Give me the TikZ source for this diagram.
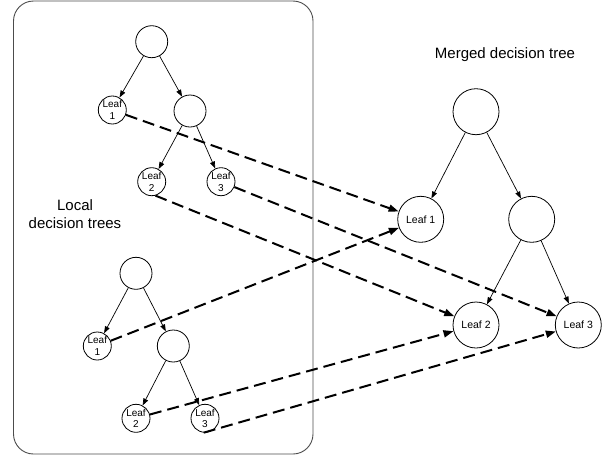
\documentclass[tikz,border=0pt]{standalone}
\usepackage{fontspec}
\setmainfont{Liberation Sans}
\usetikzlibrary{arrows.meta}

\tikzset{
  inner/.style={draw, circle, line width=0.8pt, minimum size=32pt, inner sep=0pt},
  leaf/.style={draw, circle, line width=0.8pt, minimum size=28pt, inner sep=0pt, align=center,
    font=\fontsize{10}{11.5}\selectfont},
  bigleaf/.style={draw, circle, line width=0.8pt, minimum size=46pt, inner sep=0pt,
    font=\fontsize{10.5}{12}\selectfont},
  edge/.style={-{Triangle[length=7pt,width=5pt]}, line width=0.7pt},
  merge/.style={-{Triangle[length=10pt,width=7pt]}, line width=2pt,
    dash pattern=on 12pt off 6pt}
}

\begin{document}
\begin{tikzpicture}[x=1pt, y=-1pt]
			%%%%% START %%%%%
			\useasboundingbox (0,0) rectangle (609,458);
			
			\draw[line width=0.9pt, color=black!70, rounded corners=20pt] (13.5,1) rectangle (313,454);
			\node[align=center, font=\fontsize{15}{17.5}\selectfont] (loc) at (75,214) {Local\\decision trees};
			\node[font=\fontsize{15}{17.5}\selectfont] (mtitle) at (505,55) {Merged decision tree};
			
			% first local tree
			\node[inner] (ta) at (151.7,41.7) {};
			\node[leaf] (tl1) at (112.3,110) {Leaf\\1};
			\node[inner] (tb) at (190,111) {};
			\node[leaf] (tl2) at (151.7,181.7) {Leaf\\2};
			\node[leaf] (tl3) at (221,181.7) {Leaf\\3};
			\draw[edge] (ta) -- (tl1);
			\draw[edge] (ta) -- (tb);
			\draw[edge] (tb) -- (tl2);
			\draw[edge] (tb) -- (tl3);
			
			% second local tree
			\node[inner] (ba) at (136,273.3) {};
			\node[leaf] (bl1) at (97.3,346) {Leaf\\1};
			\node[inner] (bb) at (173.3,346) {};
			\node[leaf] (bl2) at (136,418.3) {Leaf\\2};
			\node[leaf] (bl3) at (205,418.3) {Leaf\\3};
			\draw[edge] (ba) -- (bl1);
			\draw[edge] (ba) -- (bb);
			\draw[edge] (bb) -- (bl2);
			\draw[edge] (bb) -- (bl3);
			
			% merged tree
			\node[bigleaf] (ma) at (476,111.7) {};
			\node[bigleaf] (ml1) at (420.7,219.3) {Leaf 1};
			\node[bigleaf] (mb) at (531.7,219.3) {};
			\node[bigleaf] (ml2) at (476,325) {Leaf 2};
			\node[bigleaf] (ml3) at (578.3,325) {Leaf 3};
			\draw[edge] (ma) -- (ml1);
			\draw[edge] (ma) -- (mb);
			\draw[edge] (mb) -- (ml2);
			\draw[edge] (mb) -- (ml3);
			
			% merging
			\draw[merge] (tl1) -- (ml1);
			\draw[merge] (tl2.-75) -- (ml2);
			\draw[merge] (tl3) -- (ml3);
			\draw[merge] (bl1) -- (ml1);
			\draw[merge] (bl2) -- (ml2);
			\draw[merge] (bl3.-95) -- (ml3);
			%%%%% END %%%%%
\end{tikzpicture}
\end{document}
